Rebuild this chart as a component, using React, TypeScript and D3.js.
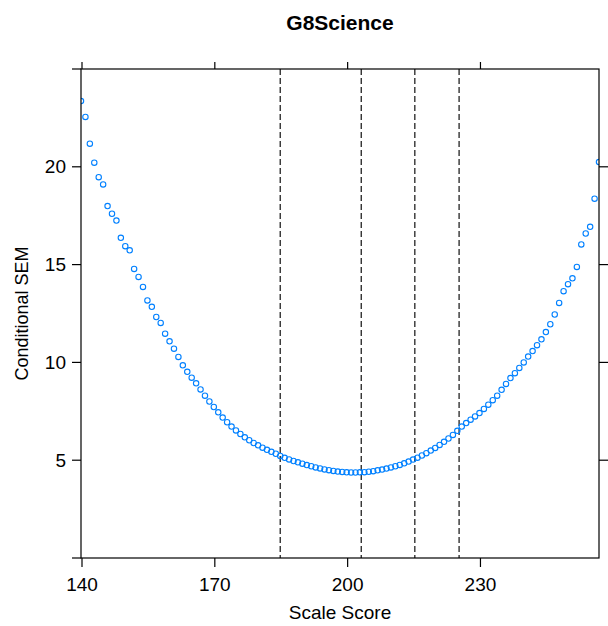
import React from 'react';
import * as d3 from 'd3';

// scale scores 140..257, one point each
const scores: number[] = d3.range(140, 258);

// conditional SEM
const sem: number[] = [
  23.36, 22.55, 21.18, 20.21, 19.47, 19.1, 17.99, 17.6, 17.25, 16.37,
  15.94, 15.73, 14.78, 14.37, 13.86, 13.17, 12.84, 12.32, 12.02, 11.47,
  11.08, 10.7, 10.28, 9.85, 9.52, 9.22, 8.93, 8.62, 8.3, 8.0,
  7.72, 7.45, 7.18, 6.94, 6.72, 6.52, 6.34, 6.17, 6.02, 5.88,
  5.76, 5.64, 5.53, 5.43, 5.33, 5.22, 5.12, 5.04, 4.96, 4.89,
  4.82, 4.75, 4.69, 4.63, 4.58, 4.53, 4.49, 4.45, 4.42, 4.4,
  4.38, 4.37, 4.37, 4.38, 4.39, 4.41, 4.44, 4.48, 4.52, 4.57,
  4.63, 4.69, 4.76, 4.84, 4.93, 5.03, 5.13, 5.24, 5.36, 5.49,
  5.63, 5.78, 5.94, 6.11, 6.29, 6.5, 6.72, 6.9, 7.07, 7.24,
  7.41, 7.62, 7.84, 8.07, 8.3, 8.6, 8.9, 9.2, 9.45, 9.72,
  10.0, 10.3, 10.58, 10.88, 11.18, 11.55, 11.95, 12.45, 13.04, 13.64,
  14.0, 14.3, 14.88, 16.03, 16.59, 16.93, 18.37, 20.24,
];

// cut scores (dashed reference lines)
const cutScores: number[] = [185, 203.3, 215.4, 225.4];

const xTicks: number[] = [140, 170, 200, 230];
const yTicks: number[] = [5, 10, 15, 20];

const title = 'G8Science';
const xLabel = 'Scale Score';
const yLabel = 'Conditional SEM';

const font = '"Liberation Sans", Arial, sans-serif';

const App = () => {
  const width = 608;
  const height = 626;
  const panel = { left: 81, right: 599, top: 69, bottom: 558 };

  const x = d3.scaleLinear().domain([140, 257]).range([panel.left, panel.right]);
  const y = d3.scaleLinear().domain([0, 25]).range([panel.bottom, panel.top]);

  const data = scores.map((s, i) => ({ s, v: sem[i] }));

  return (
    <svg
      width={width}
      height={height}
      style={{ position: 'absolute', left: 0, top: 0, background: '#fff' }}
      fontFamily={font}
    >
      <defs>
        <clipPath id="panel-clip">
          <rect
            x={panel.left}
            y={panel.top}
            width={panel.right - panel.left}
            height={panel.bottom - panel.top}
          />
        </clipPath>
      </defs>

      {/* title */}
      <text x={(panel.left + panel.right) / 2} y={30} textAnchor="middle" fontSize={21} fontWeight="bold" fill="#000">
        {title}
      </text>

      {/* cut score lines */}
      {cutScores.map((c) => (
        <line
          key={c}
          x1={x(c)}
          x2={x(c)}
          y1={panel.top}
          y2={panel.bottom}
          stroke="#222"
          strokeWidth={1.3}
          strokeDasharray="6,3"
        />
      ))}

      {/* points */}
      <g clipPath="url(#panel-clip)">
        {data.map((d) => (
          <circle
            key={d.s}
            cx={x(d.s)}
            cy={y(d.v)}
            r={2.7}
            fill="none"
            stroke="#0080ff"
            strokeWidth={1.1}
          />
        ))}
      </g>

      {/* box */}
      <rect
        x={panel.left}
        y={panel.top}
        width={panel.right - panel.left}
        height={panel.bottom - panel.top}
        fill="none"
        stroke="#000"
        strokeWidth={1.2}
      />

      {/* bottom + top ticks */}
      {xTicks.map((t) => (
        <g key={'x' + t}>
          <line x1={x(t) + 1} x2={x(t) + 1} y1={panel.bottom} y2={panel.bottom + 9} stroke="#000" strokeWidth={1.2} />
          <line x1={x(t) + 1} x2={x(t) + 1} y1={panel.top} y2={panel.top - 7} stroke="#000" strokeWidth={1.2} />
          <text x={x(t) + 1} y={591} textAnchor="middle" fontSize={19} fill="#000">
            {t}
          </text>
        </g>
      ))}

      {/* left + right ticks */}
      {[0, ...yTicks, 25].map((t) => (
        <line key={'yl' + t} x1={panel.left - 9} x2={panel.left} y1={y(t)} y2={y(t)} stroke="#000" strokeWidth={1.2} />
      ))}
      {yTicks.map((t) => (
        <g key={'y' + t}>
          <line x1={panel.right} x2={panel.right + 10} y1={y(t)} y2={y(t)} stroke="#000" strokeWidth={1.2} />
          <text x={66} y={y(t)} dy="0.35em" textAnchor="end" fontSize={19} fill="#000">
            {t}
          </text>
        </g>
      ))}

      {/* axis labels */}
      <text x={(panel.left + panel.right) / 2} y={619} textAnchor="middle" fontSize={19} fill="#000">
        {xLabel}
      </text>
      <text
        transform={`translate(28,${(panel.top + panel.bottom) / 2}) rotate(-90)`}
        textAnchor="middle"
        fontSize={18}
        fill="#000"
      >
        {yLabel}
      </text>
    </svg>
  );
};

export default App;
